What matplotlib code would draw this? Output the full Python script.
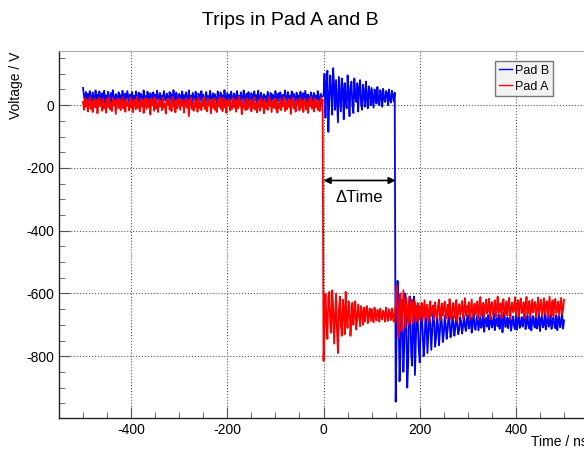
import numpy as np
import matplotlib.pyplot as plt

plt.rcParams['font.family'] = ['Liberation Sans', 'DejaVu Sans']
plt.rcParams['axes.unicode_minus'] = False

# sample times in ns (2 ns steps)
time = np.arange(-500, 501, 2)

# Pad A (red)
pad_a_pre = [  # t = -500 .. -2
    10, -15, 22, -5, 18, -20, 6, 25, -12, 14, -22, 3, 20, -8, 16, -26, 9, 24, -3, 12, -18, 21, -10, 5, -24,
    19, -6, 26, -14, 8, -19, 23, 0, 15, -28, 11, 22, -9, 17, -16, 4, 25, -11, 13, -21, 20, -2, 9, -17, 24,
    -7, 14, -23, 18, 2, -13, 27, -9, 10, -20, 21, -4, 16, -25, 7, 23, -12, 19, -6, 11, -30, 22, -1, 15, -18,
    25, -10, 8, -22, 20, -3, 13, -16, 24, -8, 5, -27, 18, 1, 21, -14, 10, -19, 26, -5, 12, -23, 17, -11, 6,
    23, -15, 19, -2, 14, -24, 9, 22, -7, 16, -35, 11, 25, -12, 4, -18, 20, -6, 15, -21, 24, -9, 7, -16, 18,
    -3, 26, -13, 10, -20, 21, -1, 13, -26, 17, -8, 22, -15, 6, -22, 19, -4, 25, -11, 12, -19, 23, -7, 9, -25,
    16, -2, 20, -17, 8, -12, 24, -6, 14, -21, 18, -10, 27, -3, 11, -29, 21, -8, 5, -16, 22, -13, 15, -4, 19,
    -20, 10, -9, 25, -14, 7, -23, 17, 2, -18, 23, -5, 13, -26, 20, -11, 8, -15, 26, -2, 16, -22, 12, -7, 21,
    -12, 18, -24, 4, -9, 22, -16, 14, -3, 25, -19, 9, -13, 20, -6, 17, -28, 11, 24, -10, 6, -21, 19, -1, 13,
    -17, 23, -8, 15, -22, 10, 21, -14, 7, -25, 18, -4, 26, -11, 12, -20, 22, -6, 16, -15, 9, -19, 24, -3, 18]
pad_a_trip = [  # t = 0 .. 148
    -815, -720, -600, -690, -745, -610, -595, -700, -725, -590, -640, -760, -680, -600, -720, -790, -650, -610, -700, -735, -620, -655, -730, -595, -680,
    -710, -625, -640, -735, -690, -630, -700, -660, -625, -715, -680, -635, -670, -705, -640, -660, -700, -645, -690, -655, -640, -695, -665, -648, -688,
    -650, -675, -692, -645, -670, -686, -652, -660, -690, -648, -675, -683, -655, -662, -690, -645, -672, -688, -650, -665, -685, -648, -676, -690, -655]
pad_a_kick = [  # t = 150 .. 200
    -640, -575, -700, -740, -610, -600, -720, -680, -590, -650, -710, -615, -660, -700, -610, -690, -640, -620, -695, -660, -625, -690, -650, -630, -685, -640]
pad_a_tail = [  # t = 202 .. 500
    -675, -630, -688, -655, -622, -680, -645, -635, -690, -660, -625, -672, -650, -638, -684, -628, -665, -678, -640, -620, -686, -655, -632, -670, -645,
    -626, -681, -660, -636, -674, -618, -666, -683, -642, -630, -677, -652, -621, -688, -659, -634, -669, -646, -624, -679, -655, -615, -671, -640, -662,
    -628, -684, -650, -619, -673, -657, -633, -667, -641, -625, -680, -648, -612, -670, -656, -630, -676, -644, -620, -664, -651, -617, -682, -639, -627,
    -668, -653, -622, -675, -645, -610, -662, -649, -631, -678, -640, -618, -665, -654, -626, -671, -638, -614, -681, -647, -629, -660, -652, -612, -669,
    -643, -621, -674, -637, -616, -663, -655, -628, -679, -641, -611, -667, -650, -624, -672, -646, -619, -661, -636, -627, -676, -648, -613, -666, -642,
    -620, -670, -652, -615, -664, -639, -625, -677, -645, -610, -668, -656, -622, -673, -633, -618, -662, -649, -626, -671, -641, -614, -665, -652, -620]

# Pad B (blue)
pad_b_pre = [  # t = -500 .. -2
    55, 30, 8, 42, 15, 36, 3, 45, 22, 11, 40, 27, 6, 47, 18, 33, 12, 44, 25, 2, 38, 20, 46, 9, 31,
    16, 43, 24, 5, 39, 13, 48, 21, 7, 35, 28, 1, 41, 17, 32, 10, 46, 23, 4, 37, 14, 45, 26, 8, 34,
    19, 42, 11, 30, 3, 44, 22, 15, 40, 6, 36, 25, 9, 47, 18, 29, 2, 43, 20, 12, 38, 27, 5, 41, 16,
    33, 10, 46, 24, 7, 39, 14, 31, 1, 45, 21, 13, 37, 26, 4, 42, 17, 35, 8, 48, 23, 11, 40, 19, 6,
    36, 28, 3, 44, 15, 32, 9, 41, 22, 12, 47, 18, 30, 5, 39, 25, 10, 43, 20, 2, 37, 27, 14, 45, 8,
    34, 21, 6, 42, 16, 29, 11, 46, 24, 4, 38, 13, 35, 19, 7, 44, 26, 1, 40, 17, 31, 9, 48, 22, 12,
    39, 15, 33, 5, 43, 23, 10, 37, 28, 3, 45, 18, 30, 8, 41, 20, 14, 47, 25, 6, 36, 12, 42, 19, 2,
    38, 27, 9, 44, 16, 32, 4, 46, 21, 13, 40, 24, 7, 35, 18, 29, 11, 43, 22, 1, 39, 15, 34, 26, 10,
    45, 20, 5, 37, 14, 41, 28, 8, 33, 17, 47, 23, 3, 42, 12, 30, 19, 44, 9, 36, 25, 6, 40, 16, 31,
    11, 43, 22, 4, 38, 15, 46, 27, 7, 34, 20, 13, 41, 24, 2, 39, 18, 30, 10, 45, 21, 8, 36, 26, 28]
pad_b_mid = [  # t = 0 .. 148
    30, 100, -40, 65, 110, -85, 20, 95, 45, -30, 118, 60, -15, 80, 10, -55, 90, 35, -20, 85, 50, -45, 70, 15, -10,
    95, 40, -35, 60, 75, 0, -25, 85, 30, 10, 70, -20, 55, 80, 5, -15, 65, 40, -5, 75, 20, -10, 60, 45, 0,
    55, 25, -8, 50, 35, 5, 58, 15, 0, 48, 30, -5, 52, 20, 10, 45, 38, 0, 50, 18, 8, 46, 30, 12, 40]
pad_b_trip = [  # t = 150 .. 290
    -945, -700, -560, -640, -880, -790, -620, -700, -850, -760, -600, -680, -900, -820, -640, -610, -780, -830, -700, -610, -860, -750, -640, -690, -780,
    -820, -700, -650, -720, -800, -760, -660, -690, -790, -730, -665, -700, -780, -720, -655, -690, -770, -740, -670, -700, -765, -720, -660, -695, -755,
    -730, -670, -700, -745, -715, -665, -690, -740, -720, -672, -695, -735, -710, -668, -700, -730, -715, -675, -690, -728, -705]
pad_b_tail = [  # t = 292 .. 500
    -672, -705, -720, -680, -668, -712, -698, -676, -725, -690, -665, -708, -716, -680, -670, -718, -695, -674, -710, -700, -662, -722, -685, -678, -706,
    -669, -715, -692, -674, -709, -700, -664, -717, -686, -679, -705, -667, -713, -695, -671, -724, -688, -660, -707, -702, -677, -711, -684, -666, -719,
    -693, -673, -704, -714, -668, -716, -690, -661, -710, -698, -675, -706, -683, -663, -714, -696, -670, -703, -712, -666, -718, -689, -672, -705, -709,
    -659, -712, -694, -668, -720, -681, -674, -708, -700, -663, -715, -687, -670, -706, -697, -665, -713, -690, -676, -702, -711, -669, -717, -684, -673,
    -708, -692, -664, -712, -686]

pad_a = pad_a_pre + pad_a_trip + pad_a_kick + pad_a_tail
pad_b = pad_b_pre + pad_b_mid + pad_b_trip + pad_b_tail

fig = plt.figure(figsize=(5.84, 4.49), dpi=100)
ax = fig.add_axes([0.101, 0.069, 0.906, 0.817])

ax.plot(time, pad_b, color='#0000ff', lw=1.3, label='Pad B')
ax.plot(time, pad_a, color='#ff0000', lw=1.3, label='Pad A')

ax.set_xlim(-550, 550)
ax.set_ylim(-997, 172)
ax.set_xticks([-400, -200, 0, 200, 400])
ax.set_yticks([-800, -600, -400, -200, 0])
ax.set_xticks(np.arange(-550, 551, 50), minor=True)
ax.set_yticks(np.arange(-950, 151, 50), minor=True)
ax.tick_params(which='both', direction='in', labelsize=10, color='#555555')
ax.tick_params(which='major', length=8)
ax.tick_params(which='minor', length=4)
ax.grid(True, which='major', linestyle=':', color='#555555', lw=0.8)

for s in ['left', 'bottom']:
    ax.spines[s].set_color('#222222')
    ax.spines[s].set_linewidth(1.0)
ax.spines['top'].set_color('#aaaaaa')
ax.spines['right'].set_color('#aaaaaa')

ax.set_xlabel('Time / ns', loc='right', fontsize=10)
ax.xaxis.set_label_coords(1.0, -0.045)
ax.set_ylabel('Voltage / V', loc='top', fontsize=10)
ax.yaxis.set_label_coords(-0.068, 1.0)

fig.text(0.497, 0.955, 'Trips in Pad A and B', ha='center', va='center', fontsize=14)

# delta time arrow
ax.annotate('', xy=(0, -240), xytext=(150, -240),
            arrowprops=dict(arrowstyle='<|-|>', color='black', lw=1.2, shrinkA=0, shrinkB=0))
ax.text(75, -295, '\u0394Time', ha='center', va='center', fontsize=12)

leg = ax.legend(loc='upper left', bbox_to_anchor=(0.813, 0.99), fontsize=9,
                handlelength=1.0, handletextpad=0.3, borderpad=0.3, labelspacing=0.3,
                fancybox=False, framealpha=1.0)
leg.get_frame().set_facecolor('#f2f2f2')
leg.get_frame().set_edgecolor('#777777')
for line in leg.get_lines():
    line.set_linewidth(1.0)

fig.savefig('out.png', dpi=100)
